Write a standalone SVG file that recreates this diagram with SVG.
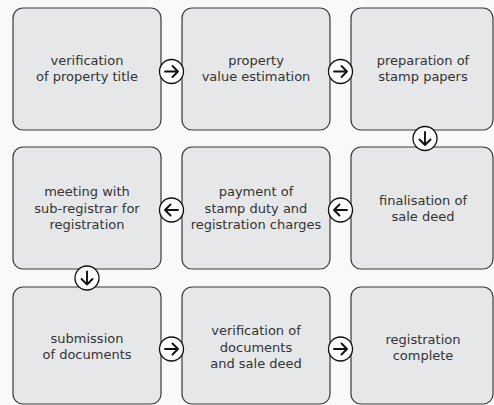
<svg xmlns="http://www.w3.org/2000/svg" width="494" height="405" viewBox="0 0 494 405">
<defs>
<style>
.box{fill:#e6e7e9;stroke:#3a3a3a;stroke-width:1.2}
.t{font-family:"DejaVu Sans","Noto Sans",sans-serif;font-size:13px;fill:#333;text-anchor:middle}
.c{fill:#ffffff;stroke:#111;stroke-width:1.3}
.a{fill:none;stroke:#111;stroke-width:1.9;stroke-linecap:round;stroke-linejoin:round}
</style>
<g id="arrR"><circle class="c" r="12"/><path class="a" d="M-6.5,0H6.5M1,-5.5L6.5,0L1,5.5"/></g>
</defs>
<rect width="494" height="405" fill="#f9f9f9"/>
<g id="n1"><rect class="box" x="13" y="8" width="148" height="122" rx="10"/><text class="t" x="87" y="65">verification</text><text class="t" x="87" y="81">of property title</text></g>
<g id="n2"><rect class="box" x="182" y="8" width="148" height="122" rx="10"/><text class="t" x="256" y="65">property</text><text class="t" x="256" y="81">value estimation</text></g>
<g id="n3"><rect class="box" x="351" y="8" width="142" height="122" rx="10"/><text class="t" x="423" y="65">preparation of</text><text class="t" x="423" y="81">stamp papers</text></g>
<g id="n6"><rect class="box" x="351" y="147" width="142" height="122" rx="10"/><text class="t" x="423" y="205">finalisation of</text><text class="t" x="423" y="221">sale deed</text></g>
<g id="n5"><rect class="box" x="182" y="147" width="148" height="122" rx="10"/><text class="t" x="256" y="196">payment of</text><text class="t" x="256" y="212.5">stamp duty and</text><text class="t" x="256" y="229">registration charges</text></g>
<g id="n4"><rect class="box" x="13" y="147" width="148" height="122" rx="10"/><text class="t" x="87" y="196">meeting with</text><text class="t" x="87" y="212.5">sub-registrar for</text><text class="t" x="87" y="229">registration</text></g>
<g id="n7"><rect class="box" x="13" y="287" width="148" height="117" rx="10"/><text class="t" x="87" y="343">submission</text><text class="t" x="87" y="359">of documents</text></g>
<g id="n8"><rect class="box" x="182" y="287" width="148" height="117" rx="10"/><text class="t" x="256" y="335">verification of</text><text class="t" x="256" y="351.5">documents</text><text class="t" x="256" y="368">and sale deed</text></g>
<g id="n9"><rect class="box" x="351" y="287" width="142" height="117" rx="10"/><text class="t" x="423" y="344">registration</text><text class="t" x="423" y="360">complete</text></g>
<g id="connectors">
<use href="#arrR" x="171.5" y="71.5"/>
<use href="#arrR" x="340.5" y="71.5"/>
<use href="#arrR" transform="translate(425,138.5) rotate(90)"/>
<use href="#arrR" transform="translate(340.5,210) rotate(180)"/>
<use href="#arrR" transform="translate(171.5,210) rotate(180)"/>
<use href="#arrR" transform="translate(87,278) rotate(90)"/>
<use href="#arrR" x="171.5" y="349"/>
<use href="#arrR" x="340.5" y="349"/>
</g>
</svg>
